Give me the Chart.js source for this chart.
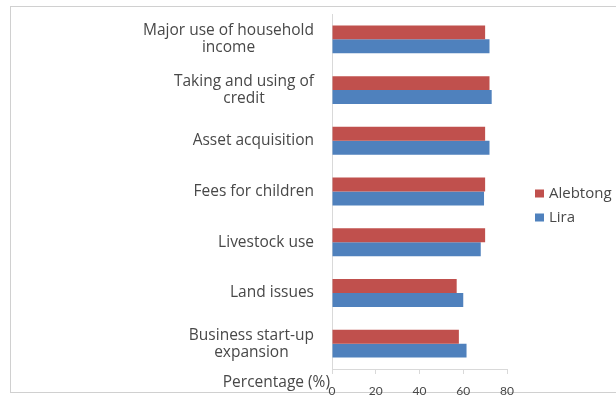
<!DOCTYPE html>
<html>
<head>
<meta charset="utf-8">
<script src="https://cdn.jsdelivr.net/npm/chart.js@4"></script>
<style>
  html, body { margin: 0; padding: 0; background: #fff; overflow: hidden; }
</style>
</head>
<body>
<canvas id="chart" width="616" height="402"></canvas>
<script>
// categories top to bottom, each entry split into its printed lines
const categories = [
  ['Major use of household', 'income'],
  ['Taking and using of', 'credit'],
  ['Asset acquisition'],
  ['Fees for children'],
  ['Livestock use'],
  ['Land issues'],
  ['Business start-up', 'expansion']
];
const seriesNames = ['Alebtong', 'Lira'];
const alebtong = [70, 72, 70, 70, 70, 57, 58];
const lira = [72, 73, 72, 69.5, 68, 60, 61.5];
const xMin = 0, xMax = 80, xStep = 20;
const xTitle = 'Percentage (%)';

const textColor = '#484848';
const labelFont = '15.5px "Open Sans", Lato, sans-serif';

// frame, category labels, axis title and legend
const decor = {
    id: 'decor',
    beforeDraw(chart) {
        const ctx = chart.ctx;
        ctx.save();
        ctx.strokeStyle = '#d0d0d0';
        ctx.lineWidth = 1;
        ctx.strokeRect(10.5, 6.5, 700, 386);
        ctx.restore();
    },
    afterDraw(chart) {
        const ctx = chart.ctx;
        const area = chart.chartArea;
        const yScale = chart.scales.y;
        ctx.save();
        ctx.fillStyle = textColor;
        ctx.font = labelFont;
        ctx.textBaseline = 'middle';
        ctx.textAlign = 'center';

        // label block right-aligned next to the axis, lines centred inside it
        const right = area.left - 18;
        const lineH = 17;
        categories.forEach((lines, i) => {
            const cy = yScale.getPixelForTick(i);
            const w = Math.max(...lines.map(l => ctx.measureText(l).width));
            const cx = right - w / 2;
            const y0 = cy - (lines.length - 1) * lineH / 2;
            lines.forEach((l, j) => ctx.fillText(l, cx, y0 + j * lineH));
        });

        // axis title sits left of the tick labels
        ctx.textAlign = 'right';
        ctx.fillText(xTitle, area.left - 2, area.bottom + 14);

        // legend
        ctx.textAlign = 'left';
        ctx.font = '15px "Open Sans", Lato, sans-serif';
        const midY = (area.top + area.bottom) / 2 + 14;
        chart.data.datasets.forEach((ds, i) => {
            const y = midY - 12 + i * 24;
            ctx.fillStyle = ds.backgroundColor;
            ctx.fillRect(area.right + 28, y - 4, 9, 8);
            ctx.fillStyle = textColor;
            ctx.fillText(ds.label, area.right + 42, y);
        });
        ctx.restore();
    }
};

new Chart(document.getElementById('chart'), {
    type: 'bar',
    data: {
        labels: categories.map(c => c.join(' ')),
        datasets: [
            {
                label: seriesNames[0],
                data: alebtong,
                backgroundColor: '#C0504D',
                barPercentage: 1,
                categoryPercentage: 0.55
            },
            {
                label: seriesNames[1],
                data: lira,
                backgroundColor: '#4F81BD',
                barPercentage: 1,
                categoryPercentage: 0.55
            }
        ]
    },
    options: {
        indexAxis: 'y',
        responsive: false,
        animation: false,
        layout: {
            padding: { left: 332, right: 109, top: 14, bottom: 0 }
        },
        plugins: {
            legend: { display: false },
            tooltip: { enabled: false }
        },
        scales: {
            x: {
                min: xMin,
                max: xMax,
                afterFit(scale) { scale.height = 33; },
                grid: {
                    drawOnChartArea: false,
                    drawTicks: true,
                    tickLength: 5,
                    color: '#d9d9d9'
                },
                border: { color: '#d9d9d9' },
                ticks: {
                    stepSize: xStep,
                    padding: 10,
                    color: textColor,
                    font: { family: 'Lato, "Open Sans", sans-serif', size: 12 }
                }
            },
            y: {
                grid: { display: false, drawTicks: false },
                border: { display: true, color: '#d9d9d9' },
                ticks: { display: false }
            }
        }
    },
    plugins: [decor]
});
</script>
</body>
</html>
